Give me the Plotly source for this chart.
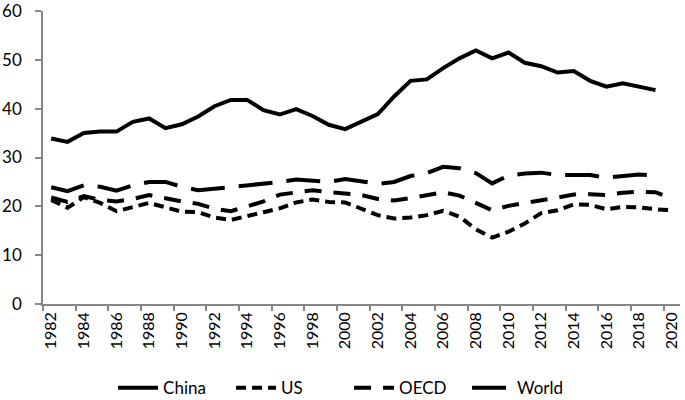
import plotly.graph_objects as go

years = list(range(1982, 2021))

china = [33.9, 33.2, 35.0, 35.3, 35.3, 37.3, 38.0, 36.0, 36.8, 38.4,
         40.5, 41.8, 41.8, 39.7, 38.8, 39.9, 38.5, 36.7, 35.8, 37.3,
         38.9, 42.5, 45.7, 46.0, 48.3, 50.3, 51.9, 50.3, 51.5, 49.4,
         48.7, 47.4, 47.7, 45.7, 44.5, 45.2, 44.5, 43.8, None]

us = [21.3, 19.7, 21.9, 20.7, 19.0, 19.8, 20.7, 19.8, 18.9, 18.8,
      17.7, 17.2, 17.9, 18.8, 19.6, 20.8, 21.4, 20.9, 20.8, 19.6,
      18.2, 17.5, 17.7, 18.2, 19.1, 17.9, 15.3, 13.6, 14.8, 16.5,
      18.6, 19.2, 20.4, 20.3, 19.4, 19.9, 19.8, 19.4, 19.2]

oecd = [21.8, 20.9, 22.1, 21.3, 21.0, 21.5, 22.3, 21.6, 21.0, 20.5,
        19.5, 19.0, 19.9, 21.0, 22.4, 22.9, 23.3, 22.9, 22.7, 22.3,
        21.5, 21.2, 21.7, 22.2, 22.9, 22.2, 20.8, 19.2, 20.1, 20.6,
        21.3, 21.8, 22.4, 22.5, 22.3, 22.8, 23.0, 22.9, 21.6]

world = [23.9, 23.1, 24.3, 24.0, 23.2, 24.3, 25.0, 25.0, 24.0, 23.3,
         23.6, 23.9, 24.4, 24.6, 25.0, 25.5, 25.2, 25.0, 25.6, 25.1,
         24.6, 25.0, 26.2, 26.8, 28.1, 27.8, 26.8, 24.7, 26.3, 26.7,
         26.9, 26.4, 26.5, 26.4, 25.9, 26.3, 26.5, 26.3, None]

tick_years = list(range(1982, 2021, 2))

series = [
    ("China", china, "solid"),
    ("US", us, "10px,6px"),
    ("OECD", oecd, "17px,12px"),
    ("World", world, "34px,14px"),
]

fig = go.Figure()
for name, vals, dash in series:
    fig.add_trace(go.Scatter(
        x=years, y=vals, name=name, mode="lines",
        line=dict(color="black", width=4, dash=dash),
        connectgaps=False,
    ))

font_family = "Lato, Carlito, 'Open Sans', sans-serif"

fig.update_layout(
    template="none",
    width=685, height=400,
    margin=dict(l=43, r=5, t=11, b=96, autoexpand=False),
    paper_bgcolor="white", plot_bgcolor="white",
    font=dict(family=font_family, size=16, color="black"),
    showlegend=True,
    legend=dict(
        orientation="h", x=0.11, xanchor="left",
        y=-0.287, yanchor="middle",
        font=dict(size=17), itemwidth=40,
        entrywidth=63, entrywidthmode="pixels",
        bgcolor="rgba(0,0,0,0)", tracegroupgap=0,
    ),
)

fig.update_xaxes(
    automargin=False,
    range=[1981.5, 2020.5],
    tickmode="array", tickvals=tick_years,
    ticktext=[str(y) for y in tick_years],
    tickangle=-90, ticks="", showgrid=False, zeroline=False,
    showline=True, linecolor="#868686", linewidth=1.5,
    minor=dict(ticks="outside", tick0=1981.5, dtick=2, ticklen=5,
               tickcolor="#868686", tickwidth=1.5, showgrid=False),
    tickfont=dict(size=16),
    ticklabeloverflow="allow",
)

fig.update_yaxes(
    automargin=False,
    range=[0, 60], dtick=10, tick0=0,
    ticks="outside", ticklen=6, tickcolor="#868686", tickwidth=1.5,
    showline=True, linecolor="#868686", linewidth=1.5,
    showgrid=False, zeroline=False,
    tickfont=dict(size=17),
    ticklabelstandoff=10,
    ticklabeloverflow="allow",
)

fig.write_html(
    "out.html",
    config={"displayModeBar": False},
    post_script="document.body.style.margin='0';document.body.style.overflow='hidden';",
)
